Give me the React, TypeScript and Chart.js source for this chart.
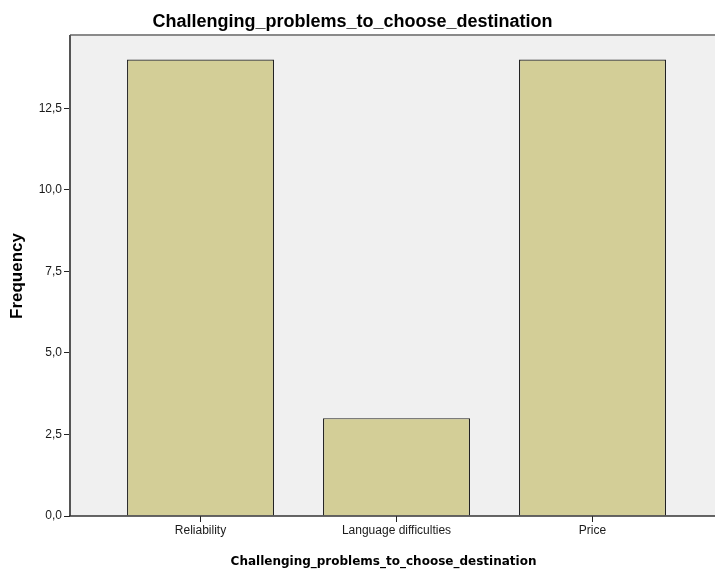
import React, { useEffect, useRef } from "react";
import { Chart, registerables } from "chart.js";

Chart.register(...registerables);

const categories = ["Reliability", "Language difficulties", "Price"];
const frequencies = [14, 3, 14];
const categoryPositions = [0, 1, 2];
const yTickValues = [0, 2.5, 5, 7.5, 10, 12.5];
const chartTitle = "Challenging_problems_to_choose_destination";
const xAxisTitle = "Challenging_problems_to_choose_destination";
const yAxisTitle = "Frequency";

const framePlugin = {
  id: "spssFrame",
  beforeDraw(chart: any) {
    const { ctx, chartArea: a } = chart;
    ctx.save();
    ctx.fillStyle = "#f0f0f0";
    ctx.fillRect(a.left, a.top, a.right - a.left, a.bottom - a.top);
    ctx.restore();
  },
  afterDatasetsDraw(chart: any) {
    const { ctx, chartArea: a } = chart;
    ctx.save();
    ctx.strokeStyle = "#8a8a8a";
    ctx.lineWidth = 2;
    ctx.beginPath();
    ctx.moveTo(a.left, a.top);
    ctx.lineTo(a.right, a.top);
    ctx.stroke();
    ctx.strokeStyle = "#555555";
    ctx.lineWidth = 2;
    ctx.beginPath();
    ctx.moveTo(a.left, a.top);
    ctx.lineTo(a.left, a.bottom);
    ctx.stroke();
    ctx.strokeStyle = "#333333";
    ctx.lineWidth = 1.5;
    ctx.beginPath();
    ctx.moveTo(a.left - 1, a.bottom);
    ctx.lineTo(a.right, a.bottom);
    ctx.stroke();
    ctx.restore();
  },
  afterDraw(chart: any) {
    const { ctx } = chart;
    ctx.save();
    ctx.fillStyle = "#000";
    ctx.textAlign = "center";
    ctx.textBaseline = "alphabetic";
    ctx.font = "bold 18px 'Liberation Sans', Arial, sans-serif";
    ctx.fillText(chartTitle, 352.5, 27);
    ctx.font = "bold 12px 'DejaVu Sans', Verdana, sans-serif";
    ctx.fillText(xAxisTitle, 383.5, 565);
    ctx.translate(22, 276);
    ctx.rotate(-Math.PI / 2);
    ctx.font = "bold 17px 'Liberation Sans', Arial, sans-serif";
    ctx.fillText(yAxisTitle, 0, 0);
    ctx.restore();
  },
};

export default function App() {
  const canvasRef = useRef<HTMLCanvasElement | null>(null);

  useEffect(() => {
    if (!canvasRef.current) return;
    const chart = new Chart(canvasRef.current, {
      type: "bar",
      data: {
        datasets: [
          {
            label: "Frequency",
            data: categoryPositions.map((x, i) => ({ x, y: frequencies[i] })),
            backgroundColor: "#d3ce97",
            borderColor: "#222222",
            borderWidth: 1.2,
            categoryPercentage: 1,
            barPercentage: 0.75,
          },
        ],
      },
      options: {
        responsive: false,
        animation: false,
        layout: { padding: { top: 35, left: 0, right: 0, bottom: 0 } },
        plugins: {
          legend: { display: false },
          title: { display: false },
          tooltip: { enabled: false },
        },
        scales: {
          x: {
            type: "linear",
            offset: false,
            min: -0.666,
            max: 2.625,
            afterFit: (s: any) => {
              s.height = 56;
            },
            afterBuildTicks: (s: any) => {
              s.ticks = categoryPositions.map((v) => ({ value: v }));
            },
            grid: {
              offset: false,
              drawOnChartArea: false,
              drawTicks: true,
              tickLength: 6,
              tickColor: "#222",
              tickWidth: 1,
            },
            border: { display: false },
            ticks: {
              padding: 1,
              maxRotation: 0,
              autoSkip: false,
              color: "#1a1a1a",
              font: { family: "'Liberation Sans', Arial, sans-serif", size: 12 },
              callback: (v: any) => categories[v] ?? "",
            },
          },
          y: {
            type: "linear",
            min: 0,
            max: 14.75,
            afterFit: (s: any) => {
              s.width = 70;
            },
            afterBuildTicks: (s: any) => {
              s.ticks = yTickValues.map((v) => ({ value: v }));
            },
            grid: {
              drawOnChartArea: false,
              drawTicks: true,
              tickLength: 6,
              tickColor: "#222",
              tickWidth: 1,
            },
            border: { display: false },
            ticks: {
              padding: 2,
              color: "#1a1a1a",
              font: { family: "'Liberation Sans', Arial, sans-serif", size: 12 },
              callback: (v: any) => Number(v).toFixed(1).replace(".", ","),
            },
          },
        },
      },
      plugins: [framePlugin],
    } as any);
    return () => chart.destroy();
  }, []);

  return (
    <div style={{ position: "fixed", left: 0, top: 0, width: 715, height: 572, background: "#fff" }}>
      <canvas ref={canvasRef} width={715} height={572} />
    </div>
  );
}
